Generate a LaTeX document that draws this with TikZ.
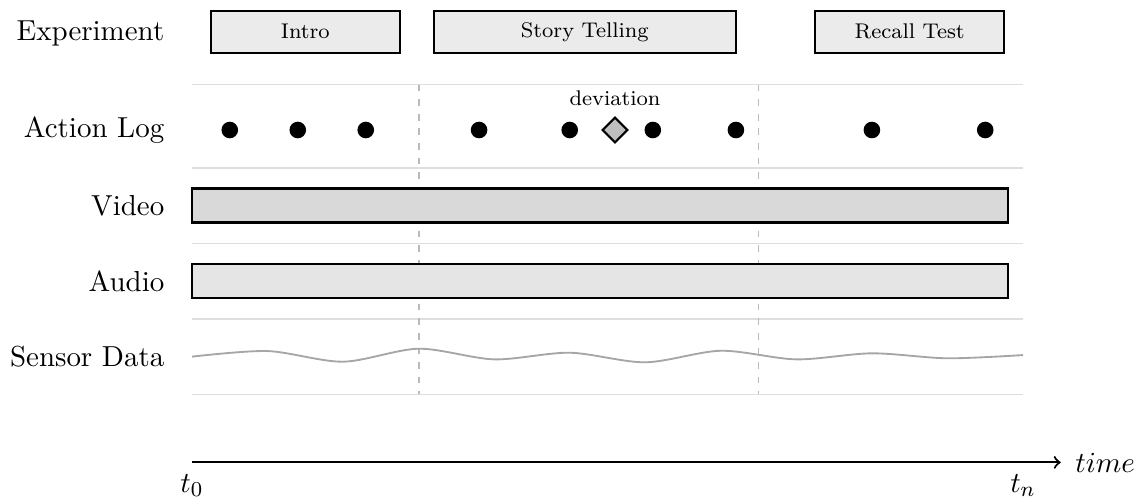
\documentclass[tikz,border=0pt]{standalone}
\usetikzlibrary{shapes.geometric}
\begin{document}
\begin{tikzpicture}[x=1cm,y=1cm,
  rowlabel/.style={anchor=east, inner sep=0pt, font=\fontsize{10.9}{13}\selectfont},
  axislabel/.style={anchor=base, inner sep=0pt, font=\fontsize{10.9}{13}\selectfont},
  phase/.style={draw=black, thick, fill=black!8, minimum height=0.55cm, inner sep=0pt,
    font=\fontsize{8}{10}\selectfont},
  stream/.style={draw=black, thick, minimum width=10.8cm, minimum height=0.45cm, inner sep=0pt},
  lane/.style={draw=black!13, line width=0.6pt},
  divider/.style={draw=black!27, line width=0.65pt, dash pattern=on 2.5pt off 3pt},
  event/.style={circle, fill=black, inner sep=0pt, minimum size=0.22cm},
  anomaly/.style={diamond, draw=black, thick, fill=black!25, inner sep=0pt, minimum size=0.34cm},
  sensor/.style={draw=black!35, line width=0.7pt},
  note/.style={inner sep=0pt, font=\fontsize{8}{10}\selectfont},
]
\useasboundingbox (-2.5415,-4.8845) rectangle (12.5356,1.7208);

% lane separators
\draw[lane] (0,0.6) -- (11,0.6);
\draw[lane] (0,-0.5) -- (11,-0.5);
\draw[lane] (0,-1.5) -- (11,-1.5);
\draw[lane] (0,-2.5) -- (11,-2.5);
\draw[lane] (0,-3.5) -- (11,-3.5);

% phase boundaries
\draw[divider] (3,0.6) -- (3,-3.5);
\draw[divider] (7.5,0.6) -- (7.5,-3.5);

% row labels
\node[rowlabel] (lexp) at (-0.36,1.28) {Experiment};
\node[rowlabel] (llog) at (-0.36,0) {Action Log};
\node[rowlabel] (lvid) at (-0.36,-1) {Video};
\node[rowlabel] (laud) at (-0.36,-2) {Audio};
\node[rowlabel] (lsen) at (-0.36,-3) {Sensor Data};

% experiment phases
\node[phase, minimum width=2.5cm] (intro) at (1.5,1.3) {Intro};
\node[phase, minimum width=4cm] (story) at (5.2,1.3) {Story Telling};
\node[phase, minimum width=2.5cm] (recall) at (9.5,1.3) {Recall Test};

% action log events
\foreach \x [count=\i] in {0.5,1.4,2.3,3.8,5.0,6.1,7.2,9.0,10.5}
  \node[event] (ev\i) at (\x,0) {};
\node[anomaly] (dev) at (5.6,0) {};
\node[note] (devlabel) at (5.6,0.42) {deviation};

% continuous recordings
\node[stream, fill=black!15] (video) at (5.4,-1) {};
\node[stream, fill=black!10] (audio) at (5.4,-2) {};

% sensor signal
\draw[sensor] plot[smooth] coordinates {(0,-3.0) (1,-2.926) (2,-3.067) (3,-2.895)
  (4,-3.036) (5,-2.948) (6,-3.075) (7,-2.922) (8,-3.036) (9,-2.956) (10,-3.022) (11,-2.979)};

% time axis
\coordinate (tstart) at (0,-4.4);
\coordinate (tend) at (11.5,-4.4);
\draw[thick,->] (tstart) -- (tend);
\node[axislabel, anchor=base west] (tlabel) at (11.685,-4.54) {$time$};
\node[axislabel] (t0) at (0,-4.8) {$t_0$};
\node[axislabel] (tn) at (11,-4.8) {$t_n$};
\end{tikzpicture}
\end{document}
